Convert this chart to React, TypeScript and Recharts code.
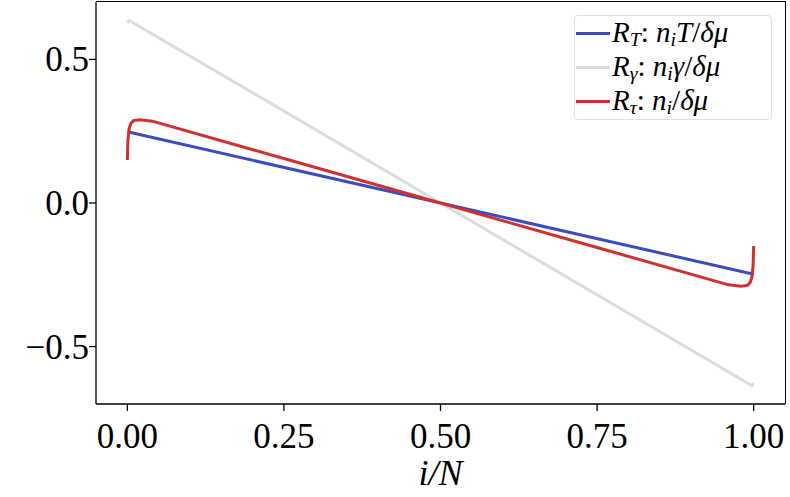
import React from "react";
import { LineChart, Line, XAxis, YAxis } from "recharts";

const xTicks = [0, 0.25, 0.5, 0.75, 1];
const xTickLabels = ["0.00", "0.25", "0.50", "0.75", "1.00"];
const yTicks = [-0.5, 0, 0.5];
const yTickLabels = ["\u22120.5", "0.0", "0.5"];
const xDomain = [-0.05, 1.05];
const yDomain = [-0.7, 0.7];

const blueX = [0, 1];
const blueY = [0.248, -0.248];

const grayX = [0, 0.003, 0.997, 1];
const grayY = [0.627, 0.636, -0.636, -0.627];

const redX = [0, 0.001, 0.003, 0.006, 0.01, 0.02, 0.04, 0.25, 0.5, 0.75, 0.96, 0.98, 0.99, 0.994, 0.997, 0.999, 1];
const redY = [0.15, 0.22, 0.26, 0.278, 0.287, 0.29, 0.285, 0.155, 0, -0.155, -0.285, -0.29, -0.287, -0.278, -0.26, -0.22, -0.15];

const toData = (xs: number[], ys: number[]) => xs.map((x, i) => ({ fx: x, fy: ys[i] }));
const blueData = toData(blueX, blueY);
const grayData = toData(grayX, grayY);
const redData = toData(redX, redY);

const BLUE = "#3b4cc0";
const GRAY = "#d8dde2";
const RED = "#cf3030";
const FONT = "'Liberation Serif', 'DejaVu Serif', serif";
const AXIS = { stroke: "#000", strokeWidth: 1.3 };

// chart layout
const CHART_W = 790;
const CHART_H = 497;
const MARGIN = { top: 2, right: 5, bottom: 0, left: 0 };
const Y_AXIS_W = 96;
const X_AXIS_H = 93;
const PLOT_LEFT = MARGIN.left + Y_AXIS_W;
const PLOT_TOP = MARGIN.top;
const PLOT_W = CHART_W - PLOT_LEFT - MARGIN.right;
const PLOT_H = CHART_H - PLOT_TOP - MARGIN.bottom - X_AXIS_H;

const XTick = (props: any) => {
  const { x, y, index } = props;
  return (
    <text x={x} y={y} dy={35} textAnchor="middle" fontFamily={FONT} fontSize={35} fill="#000">
      {xTickLabels[index]}
    </text>
  );
};

const YTick = (props: any) => {
  const { x, y, index } = props;
  return (
    <text x={x} y={y} dy={12} textAnchor="end" fontFamily={FONT} fontSize={35} fill="#000">
      {yTickLabels[index]}
    </text>
  );
};

const XLabel = (props: any) => {
  const vb = props.viewBox || {};
  return (
    <text x={vb.x + vb.width / 2} y={vb.y + 81} textAnchor="middle" fontFamily={FONT} fontSize={36} fontStyle="italic" fill="#000">
      i/N
    </text>
  );
};

const subStyle: React.CSSProperties = { fontSize: "0.68em", verticalAlign: "-0.22em", lineHeight: 0 };

const legendItems = [
  { color: BLUE, content: (<><i>R</i><i style={subStyle}>T</i>: <i>n</i><i style={subStyle}>i</i><i>T</i>/<i>δμ</i></>) },
  { color: GRAY, content: (<><i>R</i><i style={subStyle}>γ</i>: <i>n</i><i style={subStyle}>i</i><i>γ</i>/<i>δμ</i></>) },
  { color: RED, content: (<><i>R</i><i style={subStyle}>τ</i>: <i>n</i><i style={subStyle}>i</i>/<i>δμ</i></>) },
];

export default function App() {
  return (
    <div style={{ position: "absolute", left: 0, top: 0, width: CHART_W, height: CHART_H, background: "#fff", overflow: "hidden" }}>
      <LineChart width={CHART_W} height={CHART_H} margin={MARGIN}>
        <XAxis
          xAxisId="b"
          dataKey="fx"
          type="number"
          domain={xDomain}
          ticks={xTicks}
          height={X_AXIS_H}
          tickSize={7}
          tickMargin={2}
          tick={XTick}
          axisLine={AXIS}
          tickLine={AXIS}
          label={XLabel}
        />
        <YAxis
          yAxisId="l"
          type="number"
          domain={yDomain}
          ticks={yTicks}
          width={Y_AXIS_W}
          tickSize={7}
          tickMargin={0}
          tick={YTick}
          axisLine={AXIS}
          tickLine={AXIS}
        />
        <Line xAxisId="b" yAxisId="l" data={blueData} dataKey="fy" type="linear" stroke={BLUE} strokeWidth={3} dot={false} isAnimationActive={false} />
        <Line xAxisId="b" yAxisId="l" data={grayData} dataKey="fy" type="linear" stroke={GRAY} strokeWidth={3} dot={false} isAnimationActive={false} />
        <Line xAxisId="b" yAxisId="l" data={redData} dataKey="fy" type="linear" stroke={RED} strokeWidth={3} dot={false} isAnimationActive={false} />
      </LineChart>
      {/* top and right spines of the axes box, derived from the chart layout */}
      <div
        style={{
          position: "absolute",
          left: PLOT_LEFT,
          top: PLOT_TOP - 1,
          width: PLOT_W + 1,
          height: PLOT_H + 1,
          boxSizing: "border-box",
          borderTop: "1.5px solid #000",
          borderRight: "1.5px solid #000",
          pointerEvents: "none",
        }}
      />
      <div
        style={{
          position: "absolute",
          left: 574,
          top: 15,
          width: 198,
          height: 105,
          boxSizing: "border-box",
          border: "1px solid #e0e0e0",
          borderRadius: 4,
          background: "rgba(255,255,255,0.85)",
          fontFamily: FONT,
          fontSize: 29,
          color: "#000",
        }}
      >
        {legendItems.map((it, i) => (
          <div key={i} style={{ display: "flex", alignItems: "center", height: 34, whiteSpace: "nowrap" }}>
            <div style={{ width: 34, height: 3, background: it.color, marginLeft: 1, marginRight: 2, flexShrink: 0 }} />
            <span style={{ lineHeight: "26px", marginTop: -2 }}>{it.content}</span>
          </div>
        ))}
      </div>
    </div>
  );
}
